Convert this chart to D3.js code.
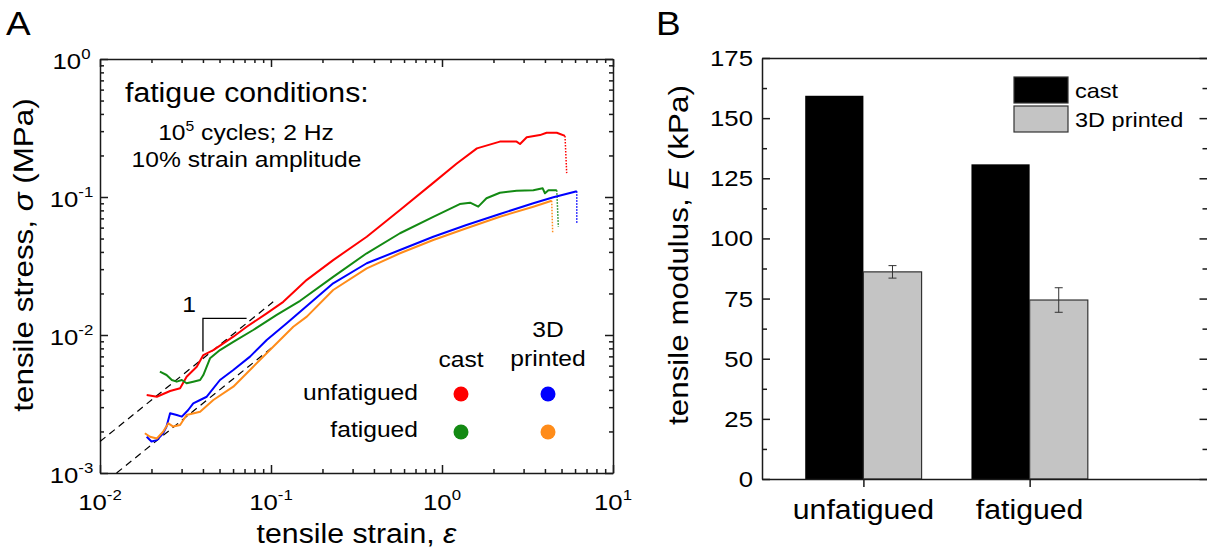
<!DOCTYPE html>
<html>
<head>
<meta charset="utf-8">
<script src="https://cdn.jsdelivr.net/npm/d3@7"></script>
<style>
  body { margin: 0; background: #fff; }
  svg { display: block; font-family: Arial, "Liberation Sans", sans-serif; }
  .ax path, .ax line { stroke: #1a1a1a; stroke-width: 1.5; }
</style>
</head>
<body>
<svg id="fig" width="1207" height="554"></svg>
<script>
// ---- panel A: stress-strain curves, [strain, stress (MPa)]
const castUnfatigued = [
  [0.01875,0.00367],[0.0215,0.00357],[0.0257,0.00393],[0.0294,0.00411],[0.0321,0.00499],
  [0.0368,0.00589],[0.0402,0.00716],[0.046,0.00778],[0.0602,0.00972],[0.0721,0.01148],
  [0.0944,0.01436],[0.118,0.0174],[0.162,0.0251],[0.231,0.0349],[0.363,0.0515],
  [0.568,0.0805],[0.885,0.126],[1.22,0.175],[1.60,0.225],[2.18,0.252],[2.73,0.252],
  [2.86,0.242],[3.13,0.271],[3.74,0.281],[4.09,0.292],[4.69,0.292],[5.24,0.277],[5.36,0.149]
];
const castFatigued = [
  [0.0224,0.00542],[0.0245,0.00513],[0.0263,0.00472],[0.0281,0.00459],[0.0301,0.00472],
  [0.0321,0.00447],[0.0351,0.00459],[0.0385,0.00472],[0.0402,0.00513],[0.044,0.00678],
  [0.0503,0.00778],[0.0602,0.00893],[0.0787,0.01087],[0.108,0.0140],[0.148,0.0177],
  [0.231,0.0264],[0.363,0.0391],[0.568,0.0546],[0.889,0.0719],[1.27,0.0889],[1.46,0.0910],
  [1.63,0.0851],[1.82,0.0979],[2.18,0.1074],[2.73,0.111],[3.42,0.112],[3.88,0.1156],
  [4.00,0.1064],[4.19,0.112],[4.69,0.112],[4.79,0.0609]
];
const printedUnfatigued = [
  [0.01875,0.00183],[0.0200,0.00169],[0.0215,0.00173],[0.0234,0.00194],[0.0245,0.00217],
  [0.0257,0.00271],[0.0281,0.00263],[0.0301,0.00256],[0.0328,0.00286],[0.0351,0.00320],
  [0.0385,0.00338],[0.0421,0.00357],[0.0503,0.00472],[0.0602,0.00557],[0.0754,0.00697],
  [0.0944,0.00920],[0.1236,0.01216],[0.148,0.01476],[0.231,0.0237],[0.363,0.0331],
  [0.568,0.0413],[0.889,0.0515],[1.39,0.0627],[2.18,0.0753],[3.42,0.090],[4.48,0.0995],
  [6.14,0.110],[6.14,0.0644]
];
const printedFatigued = [
  [0.0183,0.00194],[0.0196,0.00183],[0.0215,0.00178],[0.0234,0.00199],[0.0251,0.00229],
  [0.0268,0.00217],[0.0294,0.00223],[0.0321,0.00263],[0.0385,0.00278],[0.046,0.00338],
  [0.0602,0.00422],[0.0787,0.00589],[0.103,0.00822],[0.135,0.01148],[0.162,0.01358],
  [0.231,0.0212],[0.363,0.0304],[0.568,0.0391],[0.889,0.0488],[1.39,0.0593],[2.18,0.0719],
  [3.42,0.0851],[4.38,0.094],[4.44,0.0546]
];
const curveColors = ['#ff0000', '#138a13', '#0000ff', '#ff8c1a'];

// slope-1 guide lines and slope marker
const guideUpper = [[0.01, 0.00169], [0.103, 0.0174]];
const guideLower = [[0.0125, 0.001], [0.103, 0.00824]];
const slopeMark = [[0.04, 0.0076], [0.04, 0.0132], [0.072, 0.0132]];

const xDecades = [1e-2, 1e-1, 1e0, 1e1];
const xExp = ['-2', '-1', '0', '1'];
const yDecades = [1e-3, 1e-2, 1e-1, 1e0];
const yExp = ['-3', '-2', '-1', '0'];

// ---- panel B: tensile modulus (kPa)
const categories = ['unfatigued', 'fatigued'];
const castModulus = [159.3, 130.8];
const printedModulus = [86.1, 74.4];
const printedErr = [2.6, 5.1];
const bTicks = [0, 25, 50, 75, 100, 125, 150, 175];

const SX = 1.12;   // source font is a little wider than Arial
const svg = d3.select('#fig');

function txt(g, x, y, size, anchor, rot) {
  return g.append('text')
    .attr('transform', `translate(${x},${y})` + (rot ? ` rotate(${rot})` : '') + ` scale(${SX},1)`)
    .attr('font-size', size)
    .attr('text-anchor', anchor)
    .attr('fill', '#000');
}
function sup(t, base, exp, size) {
  t.append('tspan').text(base);
  t.append('tspan').attr('font-size', size).attr('dy', -10).text(exp);
}

// ================= panel A =================
const ax = d3.scaleLog().domain([1e-2, 1e1]).range([100, 613]);
const ay = d3.scaleLog().domain([1e-3, 1e0]).range([473, 59]);
const gA = svg.append('g');

const minorX = [], minorY = [];
xDecades.slice(0, -1).forEach(d => { for (let k = 2; k <= 9; k++) minorX.push(d * k); });
yDecades.slice(0, -1).forEach(d => { for (let k = 2; k <= 9; k++) minorY.push(d * k); });

function logAxis(axisFn, scale, pos, minor, major) {
  gA.append('g').attr('class', 'ax').attr('transform', pos)
    .call(axisFn(scale).tickValues(minor).tickSize(-4).tickSizeOuter(0).tickFormat(''));
  gA.append('g').attr('class', 'ax').attr('transform', pos)
    .call(axisFn(scale).tickValues(major).tickSize(-8).tickSizeOuter(0).tickFormat(''))
    .call(g => g.select('.domain').remove());
}
logAxis(d3.axisBottom, ax, 'translate(0,473)', minorX, xDecades);
logAxis(d3.axisTop, ax, 'translate(0,59)', minorX, xDecades);
logAxis(d3.axisLeft, ay, 'translate(100,0)', minorY, yDecades);
logAxis(d3.axisRight, ay, 'translate(613,0)', minorY, yDecades);

xDecades.forEach((d, i) => sup(txt(gA, ax(d), 510, 23, 'middle'), '10', xExp[i], 15));
yDecades.forEach((d, i) => sup(txt(gA, 71.5, ay(d) + 10, 23, 'middle'), '10', yExp[i], 15));

// guide lines
const lineA = d3.line().x(d => ax(d[0])).y(d => ay(d[1]));
[guideUpper, guideLower].forEach(g => {
  gA.append('path').attr('d', lineA(g)).attr('fill', 'none')
    .attr('stroke', '#000').attr('stroke-width', 1.2).attr('stroke-dasharray', '7,5');
});
gA.append('path').attr('d', lineA(slopeMark)).attr('fill', 'none')
  .attr('stroke', '#000').attr('stroke-width', 1.3);
txt(gA, 189, 312, 22, 'middle').text('1');

// curves; last segment is the fracture drop, drawn dotted
[castUnfatigued, castFatigued, printedUnfatigued, printedFatigued].forEach((c, i) => {
  gA.append('path').attr('d', lineA(c.slice(0, -1))).attr('fill', 'none')
    .attr('stroke', curveColors[i]).attr('stroke-width', 2).attr('stroke-linejoin', 'round');
  gA.append('path').attr('d', lineA(c.slice(-2))).attr('fill', 'none')
    .attr('stroke', curveColors[i]).attr('stroke-width', 1.5).attr('stroke-dasharray', '1.5,1.5');
});

// annotation text
txt(gA, 125, 102, 27, 'start').text('fatigue conditions:');
const t5 = txt(gA, 246, 140, 22, 'middle');
t5.append('tspan').text('10');
t5.append('tspan').attr('font-size', 14).attr('dy', -9).text('5');
t5.append('tspan').attr('dy', 9).text(' cycles; 2 Hz');
txt(gA, 246.5, 167, 22, 'middle').text('10% strain amplitude');

// legend grid
txt(gA, 461, 367, 22, 'middle').text('cast');
txt(gA, 548, 337, 22, 'middle').text('3D');
txt(gA, 548, 366, 22, 'middle').text('printed');
txt(gA, 418, 400, 22, 'end').text('unfatigued');
txt(gA, 418, 437, 22, 'end').text('fatigued');
[[461, 394], [548, 394], [461, 432], [548, 432]].forEach((p, i) => {
  gA.append('circle').attr('cx', p[0]).attr('cy', p[1]).attr('r', 7.5).attr('fill', curveColors[[0, 2, 1, 3][i]]);
});

// axis titles
const tx = txt(gA, 356.5, 543, 27, 'middle');
tx.append('tspan').text('tensile strain, ');
tx.append('tspan').attr('font-style', 'italic').text('ε');
const ty = txt(gA, 33, 255, 28, 'middle', -90);
ty.append('tspan').text('tensile stress, ');
ty.append('tspan').attr('font-style', 'italic').text('σ');
ty.append('tspan').text(' (MPa)');
txt(gA, 6, 35, 33, 'start').text('A');

// ================= panel B =================
const bx = d3.scaleLinear().domain([0.39, 3.07]).range([762, 1207.5]);
const by = d3.scaleLinear().domain([0, 175]).range([479, 58]);
const gB = svg.append('g');
const barW = 0.35;

categories.forEach((c, i) => {
  gB.append('rect')
    .attr('x', bx(i + 1 - barW)).attr('y', by(castModulus[i]))
    .attr('width', bx(i + 1) - bx(i + 1 - barW)).attr('height', by(0) - by(castModulus[i]))
    .attr('fill', '#000');
  gB.append('rect')
    .attr('x', bx(i + 1)).attr('y', by(printedModulus[i]))
    .attr('width', bx(i + 1 + barW) - bx(i + 1)).attr('height', by(0) - by(printedModulus[i]))
    .attr('fill', '#c4c4c4').attr('stroke', '#333').attr('stroke-width', 1.2);
  const cx = bx(i + 1 + barW / 2);
  const lo = by(printedModulus[i] - printedErr[i]), hi = by(printedModulus[i] + printedErr[i]);
  gB.append('path').attr('d', `M${cx},${lo}V${hi}M${cx - 4},${lo}H${cx + 4}M${cx - 4},${hi}H${cx + 4}`)
    .attr('fill', 'none').attr('stroke', '#333').attr('stroke-width', 1);
  txt(gB, bx(i + 1), 519, 27, 'middle').text(c);
});

const minorB = bTicks.slice(0, -1).map(v => v + 12.5);
[[d3.axisLeft, 762], [d3.axisRight, 1207.5]].forEach(([fn, x]) => {
  gB.append('g').attr('class', 'ax').attr('transform', `translate(${x},0)`)
    .call(fn(by).tickValues(bTicks).tickSize(-8).tickSizeOuter(0).tickFormat(''));
  gB.append('g').attr('class', 'ax').attr('transform', `translate(${x},0)`)
    .call(fn(by).tickValues(minorB).tickSize(-5).tickSizeOuter(0).tickFormat(''))
    .call(g => g.select('.domain').remove());
});
gB.append('g').attr('class', 'ax').attr('transform', 'translate(0,479)')
  .call(d3.axisBottom(bx).tickValues([1, 2]).tickSize(8).tickSizeOuter(0).tickFormat(''));
gB.append('g').attr('class', 'ax').attr('transform', 'translate(0,58)')
  .call(d3.axisTop(bx).tickValues([]).tickSizeOuter(0));

bTicks.forEach(v => txt(gB, 753, by(v) + 8, 23, 'end').text(v));

// legend
const legB = [['cast', '#000', 77], ['3D printed', '#c4c4c4', 106]];
legB.forEach(([lab, col, y]) => {
  gB.append('rect').attr('x', 1014).attr('y', y).attr('width', 54).attr('height', 26)
    .attr('fill', col).attr('stroke', '#333').attr('stroke-width', 1.2);
  txt(gB, 1075, y + 21, 21, 'start').text(lab);
});

const tyB = txt(gB, 688, 255, 28, 'middle', -90);
tyB.append('tspan').text('tensile modulus, ');
tyB.append('tspan').attr('font-style', 'italic').text('E');
tyB.append('tspan').text(' (kPa)');
txt(gB, 656, 35, 33, 'start').text('B');
</script>
</body>
</html>
